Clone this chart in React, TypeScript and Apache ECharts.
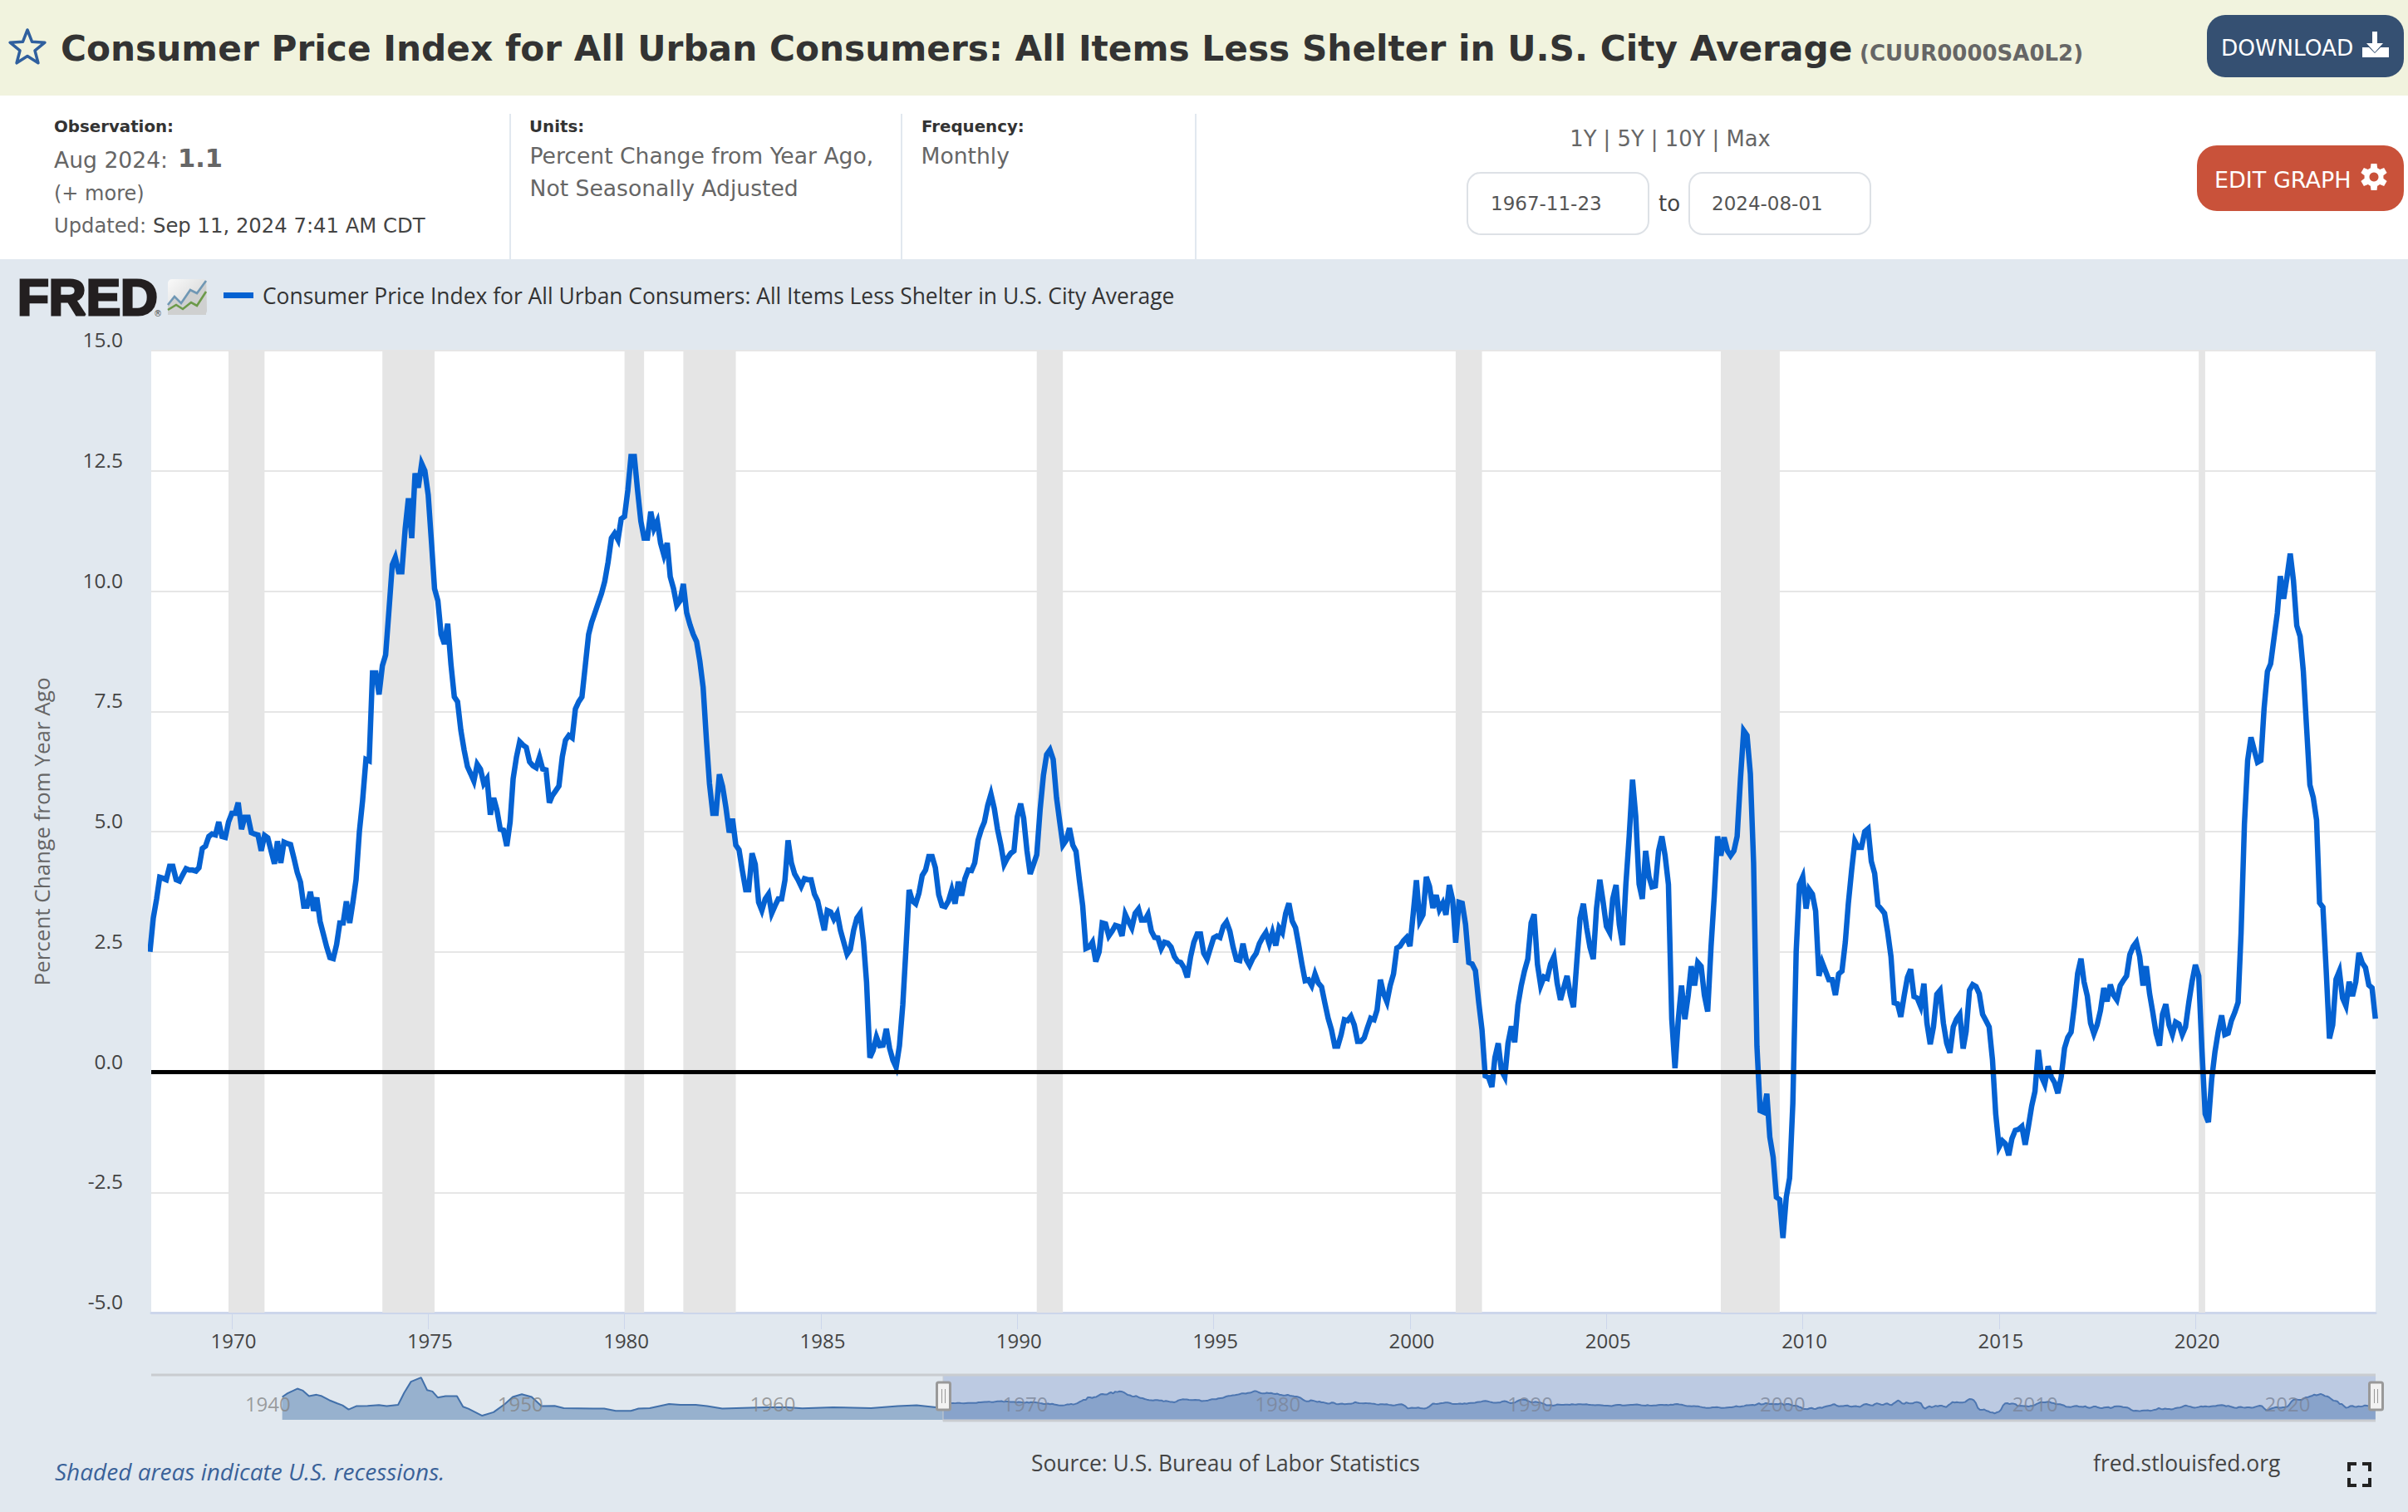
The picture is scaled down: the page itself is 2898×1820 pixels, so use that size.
import React, { useEffect, useRef } from "react";
import * as echarts from "echarts";

// Monthly values, percent change from year ago, starting Dec 1967
const startYear = 1967;
const startMonth = 11;
const cpiYoY: number[] = [
  2.5,
  3.2, 3.6, 4.05, 4.03, 4.0, 4.28, 4.28, 4.0, 3.97, 4.1, 4.23, 4.2,
  4.2, 4.18, 4.25, 4.65, 4.7, 4.9, 4.95, 4.93, 5.2, 4.9, 4.88, 5.2,
  5.38, 5.38, 5.6, 5.05, 5.3, 5.3, 4.98, 4.95, 4.93, 4.6, 4.92, 4.87,
  4.6, 4.33, 4.8, 4.35, 4.78, 4.75, 4.73, 4.45, 4.15, 3.95, 3.45, 3.45,
  3.75, 3.35, 3.63, 3.13, 2.87, 2.6, 2.38, 2.36, 2.65, 3.1, 3.1, 3.55,
  3.1, 3.55, 4.0, 5.0, 5.65, 6.5, 6.47, 8.3, 8.3, 7.85, 8.45, 8.67,
  9.6, 10.55, 10.7, 10.4, 10.4, 11.3, 11.93, 11.1, 12.45, 12.15, 12.65, 12.5,
  12.0, 11.0, 10.05, 9.8, 9.1, 8.9, 9.32, 8.47, 7.8, 7.7, 7.1, 6.7,
  6.35, 6.2, 6.05, 6.4, 6.3, 6.0, 6.1, 5.35, 5.7, 5.45, 5.05, 5.03,
  4.7, 5.2, 6.1, 6.55, 6.87, 6.8, 6.75, 6.45, 6.37, 6.33, 6.55, 6.3,
  6.28, 5.6, 5.75, 5.85, 5.95, 6.55, 6.9, 7.0, 6.95, 7.55, 7.7, 7.8,
  8.45, 9.1, 9.35, 9.55, 9.75, 9.95, 10.2, 10.6, 11.1, 11.2, 11.07, 11.5,
  11.55, 12.1, 12.8, 12.8, 12.1, 11.45, 11.1, 11.1, 11.65, 11.3, 11.45, 11.0,
  10.75, 11.0, 10.3, 10.05, 9.7, 9.8, 10.15, 9.55, 9.3, 9.1, 8.95, 8.55,
  8.0, 6.9, 6.0, 5.38, 5.38, 6.19, 5.94, 5.5, 4.98, 5.27, 4.72, 4.62,
  4.19, 3.79, 3.79, 4.55, 4.32, 3.53, 3.36, 3.6, 3.7, 3.3, 3.46, 3.6,
  3.6, 3.99, 4.82, 4.35, 4.12, 4.0, 3.86, 4.02, 4.0, 4.0, 3.7, 3.56,
  3.25, 2.95, 3.36, 3.33, 3.18, 3.3, 2.95, 2.7, 2.45, 2.55, 2.95, 3.2,
  3.3, 2.7, 1.87, 0.3, 0.45, 0.73, 0.55, 0.56, 0.9, 0.5, 0.25, 0.1,
  0.55, 1.4, 2.5, 3.79, 3.56, 3.5, 3.72, 4.09, 4.2, 4.48, 4.48, 4.25,
  3.69, 3.46, 3.44, 3.56, 3.79, 3.5, 3.96, 3.67, 4.02, 4.2, 4.19, 4.35,
  4.82, 5.05, 5.2, 5.55, 5.78, 5.48, 5.05, 4.72, 4.32, 4.45, 4.55, 4.6,
  5.31, 5.58, 5.28, 4.6, 4.12, 4.32, 4.52, 5.45, 6.17, 6.6, 6.7, 6.5,
  5.7, 5.18, 4.72, 4.82, 5.07, 4.72, 4.59, 4.0, 3.46, 2.57, 2.6, 2.7,
  2.3, 2.5, 3.1, 3.08, 2.83, 2.93, 3.05, 3.03, 2.83, 3.28, 3.13, 3.0,
  3.3, 3.39, 3.16, 3.16, 3.28, 2.93, 2.8, 2.79, 2.57, 2.7, 2.68, 2.6,
  2.4, 2.3, 2.28, 2.17, 1.97, 2.4, 2.7, 2.87, 2.87, 2.47, 2.35, 2.57,
  2.79, 2.83, 2.8, 3.03, 3.12, 2.93, 2.6, 2.34, 2.32, 2.67, 2.34, 2.22,
  2.37, 2.47, 2.67, 2.8, 2.9, 2.67, 2.9, 2.63, 3.0, 2.9, 3.3, 3.51,
  3.14, 3.0, 2.66, 2.25, 1.9, 1.92, 1.8, 2.04, 1.85, 1.77, 1.43, 1.12,
  0.88, 0.54, 0.54, 0.78, 1.09, 1.07, 1.16, 0.98, 0.64, 0.64, 0.71, 0.92,
  1.12, 1.09, 1.29, 1.92, 1.63, 1.46, 1.8, 2.04, 2.58, 2.62, 2.73, 2.8,
  2.62, 3.31, 3.99, 3.14, 3.27, 4.06, 3.86, 3.41, 3.68, 3.38, 3.51, 3.27,
  3.89, 3.58, 2.69, 3.53, 3.51, 3.07, 2.28, 2.25, 2.11, 1.46, 0.88, -0.08,
  -0.11, -0.31, 0.3, 0.6, 0.03, -0.1, 0.6, 0.95, 0.62, 1.39, 1.8, 2.1,
  2.35, 3.1, 3.28, 2.24, 1.8, 1.98, 1.95, 2.25, 2.4, 1.85, 1.5, 1.75,
  2.0, 1.6, 1.35, 2.3, 3.2, 3.5, 3.0, 2.6, 2.35, 3.4, 4.0, 3.55,
  3.03, 2.9, 3.6, 3.89, 3.07, 2.64, 3.9, 4.9, 6.08, 5.32, 3.91, 3.6,
  4.6, 4.06, 3.85, 3.87, 4.6, 4.9, 4.5, 3.9, 1.1, 0.08, 1.1, 1.8,
  1.1, 1.6, 2.2, 1.8, 2.28, 2.2, 1.6, 1.26, 2.6, 3.65, 4.9, 4.5,
  4.88, 4.6, 4.5, 4.6, 4.9, 6.1, 7.1, 7.0, 6.2, 4.35, 0.54, -0.8,
  -0.83, -0.45, -1.35, -1.77, -2.6, -2.65, -3.45, -2.6, -2.2, -0.65, 2.5, 3.9,
  4.06, 3.4, 3.8, 3.7, 3.35, 2.0, 2.28, 2.1, 1.92, 1.92, 1.6, 2.04,
  2.1, 2.7, 3.5, 4.2, 4.8, 4.67, 4.67, 5.0, 5.06, 4.38, 4.13, 3.47,
  3.39, 3.3, 2.91, 2.4, 1.44, 1.42, 1.15, 1.58, 1.97, 2.14, 1.57, 1.54,
  1.37, 1.84, 1.02, 0.58, 0.94, 1.62, 1.7, 1.02, 0.6, 0.4, 0.94, 1.1,
  1.2, 0.49, 0.85, 1.7, 1.82, 1.78, 1.63, 1.2, 1.07, 0.94, 0.25, -0.87,
  -1.56, -1.43, -1.49, -1.73, -1.38, -1.21, -1.19, -1.13, -1.51, -1.13, -0.7, -0.4,
  0.46, -0.1, -0.25, 0.12, -0.1, -0.22, -0.44, -0.1, 0.5, 0.72, 0.83, 1.37,
  2.05, 2.36, 1.88, 1.58, 1.02, 0.8, 0.98, 1.28, 1.75, 1.47, 1.82, 1.6,
  1.5, 1.8, 1.9, 2.0, 2.44, 2.61, 2.7, 2.4, 1.8, 2.2, 1.63, 1.24,
  0.8, 0.55, 1.2, 1.41, 0.98, 0.78, 1.04, 1.0, 0.78, 0.94, 1.45, 1.88,
  2.23, 2.0, 0.5, -0.87, -1.04, -0.14, 0.42, 0.85, 1.18, 0.78, 0.81, 1.07,
  1.24, 1.45, 2.9, 5.15, 6.48, 6.96, 6.7, 6.44, 6.48, 7.56, 8.33, 8.49,
  9.02, 9.54, 10.31, 9.84, 10.27, 10.78, 10.22, 9.28, 9.06, 8.33, 7.13, 5.97,
  5.71, 5.24, 3.52, 3.43, 2.14, 0.7, 0.98, 1.93, 2.1, 1.54, 1.38, 1.88,
  1.58, 1.88, 2.48, 2.27, 2.17, 1.81, 1.75, 1.11,
];

// Navigator history before the main window: [decimal year, value]
const navHistory: [number, number][] = [
  [1941.67, 8.6], [1941.88, 11.2], [1942.27, 14.6], [1942.49, 13.2], [1942.73, 9.2], [1943.03, 10.2],
  [1943.24, 9.2], [1943.54, 6.2], [1943.85, 3.9], [1944.06, 2.5], [1944.3, -0.5], [1944.6, 1.9],
  [1945.05, 2.1], [1945.5, 2.7], [1945.81, 1.9], [1946.26, 2.9], [1946.5, 11.6], [1946.77, 19.7],
  [1947.17, 22.7], [1947.41, 13.6], [1947.62, 12.6], [1947.83, 8.2], [1948.14, 9.2], [1948.59, 9.2],
  [1948.83, 1.5], [1949.04, 0.1], [1949.59, -5], [1950.04, -2.5], [1950.49, 3.5], [1950.8, 8.6],
  [1951.16, 10.6], [1951.55, 8.6], [1951.94, 1.9], [1952.46, 2.1], [1952.82, 0.5], [1953.97, 0.1],
  [1954.42, 0.1], [1954.88, -1.5], [1955.48, -1.5], [1955.78, 0.1], [1956.23, 0.5], [1956.99, 3.5],
  [1957.44, 2.9], [1958.05, 2.9], [1958.5, 1.9], [1959.1, 0.1], [1960.76, 1.1], [1961.67, 1.1],
  [1962.27, 0.3], [1963.48, 1.1], [1964.99, 0.5], [1966.05, 1.9], [1966.8, 2.5], [1967.56, 1.1],
];

const recessions: [string, string][] = [
  ["1969-12-01", "1970-11-01"],
  ["1973-11-01", "1975-03-01"],
  ["1980-01-01", "1980-07-01"],
  ["1981-07-01", "1982-11-01"],
  ["1990-07-01", "1991-03-01"],
  ["2001-03-01", "2001-11-01"],
  ["2007-12-01", "2009-06-01"],
  ["2020-02-01", "2020-04-01"],
];

const xTickYears = [1970, 1975, 1980, 1985, 1990, 1995, 2000, 2005, 2010, 2015, 2020];
const navTickYears = [1940, 1950, 1960, 1970, 1980, 1990, 2000, 2010, 2020];
const xMin = Date.UTC(1967, 11, 13);
const xMax = Date.UTC(2024, 7, 3);
const navMin = Date.UTC(1936, 5, 25);

const TITLE = "Consumer Price Index for All Urban Consumers: All Items Less Shelter in U.S. City Average";
const SERIES_CODE = "(CUUR0000SA0L2)";
const Y_NAME = "Percent Change from Year Ago";
const SOURCE = "Source: U.S. Bureau of Labor Statistics";

const BLUE = "#0562d2";
const DEJAVU = "'DejaVu Sans', sans-serif";
const OPEN = "'Open Sans', sans-serif";

const ts = (y: number, m = 0, d = 1) => Date.UTC(y, m, d);
const decYear = (v: number) => {
  const y = Math.floor(v);
  return ts(y) + (v - y) * (ts(y + 1) - ts(y));
};
const yearLabel = (v: number) => String(new Date(v).getUTCFullYear());

const T = (text: string, x: number, y: number, size: number, fill: string, extra: any = {}) => ({
  type: "text",
  silent: true,
  z: extra.z ?? 20,
  rotation: extra.rotation,
  scaleX: extra.scaleX,
  x,
  y,
  style: {
    text,
    x: 0,
    y: 0,
    fill,
    stroke: extra.stroke,
    lineWidth: extra.lineWidth,
    fontSize: size,
    fontFamily: extra.family ?? DEJAVU,
    fontWeight: extra.weight ?? "normal",
    fontStyle: extra.italic ? "italic" : "normal",
    align: extra.align ?? "left",
    verticalAlign: "middle",
  },
});

const R = (x: number, y: number, width: number, height: number, fill: any, r = 0, stroke?: string, lw = 0, z = 1) => ({
  type: "rect",
  silent: true,
  z,
  shape: { x, y, width, height, r },
  style: { fill, stroke, lineWidth: lw },
});

const L = (x1: number, y1: number, x2: number, y2: number, stroke: string, lw: number, z = 2) => ({
  type: "line",
  silent: true,
  z,
  shape: { x1, y1, x2, y2 },
  style: { stroke, lineWidth: lw },
});

const PL = (points: number[][], stroke: string, lw: number, z = 21) => ({
  type: "polyline",
  silent: true,
  z,
  shape: { points },
  style: { stroke, lineWidth: lw, fill: "none" },
});

const PG = (points: number[][], fill: string, stroke?: string, lw = 0, z = 21) => ({
  type: "polygon",
  silent: true,
  z,
  shape: { points },
  style: { fill, stroke, lineWidth: lw, lineJoin: "round" },
});

function starPoints(cx: number, cy: number, R1: number, R2: number) {
  const pts: number[][] = [];
  for (let i = 0; i < 10; i++) {
    const a = -Math.PI / 2 + (i * Math.PI) / 5;
    const r = i % 2 ? R2 : R1;
    pts.push([cx + r * Math.cos(a), cy + r * Math.sin(a)]);
  }
  return pts;
}

function gearElements(cx: number, cy: number, fill: string, hole: string) {
  const els: any[] = [];
  for (let i = 0; i < 6; i++) {
    const a = (i * Math.PI) / 3 + Math.PI / 2;
    const ca = Math.cos(a);
    const sa = Math.sin(a);
    const p = (u: number, v: number) => [cx + u * ca - v * sa, cy + u * sa + v * ca];
    els.push(PG([p(8, -4.5), p(16, -3.5), p(16, 3.5), p(8, 4.5)], fill));
  }
  els.push({ type: "circle", silent: true, z: 21, shape: { cx, cy, r: 11.5 }, style: { fill } });
  els.push({ type: "circle", silent: true, z: 22, shape: { cx, cy, r: 5.5 }, style: { fill: hole } });
  return els;
}

function pageGraphics() {
  const g: any[] = [
    R(0, 0, 2898, 115, "#f1f3de"),
    R(0, 115, 2898, 197, "#ffffff"),
    PG(starPoints(33, 58, 22, 9.5), "none", "#2f5f9e", 3.5),
    T(TITLE, 73, 58, 42.25, "#333333", { weight: "bold" }),
    T(SERIES_CODE, 2238, 64, 26, "#666666", { weight: "bold" }),

    R(2656, 18, 237, 75, "#355072", 22),
    T("DOWNLOAD", 2673, 57, 26.4, "#ffffff"),
    PG([[2855, 38], [2861, 38], [2861, 52], [2868, 52], [2858, 63], [2848, 52], [2855, 52]], "#ffffff"),
    PG([[2843, 57], [2851, 57], [2858, 64], [2865, 57], [2875, 57], [2875, 69], [2843, 69]], "#ffffff"),

    R(2644, 175, 249, 79, "#c9523a", 24),
    T("EDIT GRAPH", 2665, 216, 27, "#ffffff"),
    ...gearElements(2857, 213, "#ffffff", "#c9523a"),

    L(614, 137, 614, 312, "#e1e8ef", 2),
    L(1085, 137, 1085, 312, "#e1e8ef", 2),
    L(1439, 137, 1439, 312, "#e1e8ef", 2),

    T("Observation:", 65, 152, 19.8, "#333333", { weight: "bold" }),
    T("Aug 2024:", 65, 192, 26.6, "#666666"),
    T("1.1", 214, 190, 30.5, "#666666", { weight: "bold" }),
    T("(+ more)", 65, 233, 24, "#666666"),
    T("Updated:", 65, 271.5, 24.2, "#666666"),
    T("Sep 11, 2024 7:41 AM CDT", 184, 271.5, 24.3, "#444444"),
    T("Units:", 637, 152, 19.8, "#333333", { weight: "bold" }),
    T("Percent Change from Year Ago,", 637.5, 187, 26.6, "#666666"),
    T("Not Seasonally Adjusted", 637.5, 226.5, 26.6, "#666666"),
    T("Frequency:", 1109, 152, 19.8, "#333333", { weight: "bold" }),
    T("Monthly", 1108.5, 187, 26.6, "#666666"),

    T("1Y | 5Y | 10Y | Max", 2010, 167, 25.8, "#666666", { align: "center" }),
    R(1766, 208, 218, 74, "#ffffff", 16, "#dde1e6", 2),
    T("1967-11-23", 1794, 245, 23, "#555555"),
    T("to", 1996, 245, 26, "#444444"),
    R(2033, 208, 218, 74, "#ffffff", 16, "#dde1e6", 2),
    T("2024-08-01", 2060, 245, 23, "#555555"),

    T("FRED", 21, 357.5, 62, "#231f20", { family: "'Liberation Sans', sans-serif", weight: "bold", stroke: "#231f20", lineWidth: 3 }),
    T("®", 185, 377, 10, "#444444"),
    R(202, 336, 47, 43, {
      type: "linear", x: 0, y: 0, x2: 1, y2: 1,
      colorStops: [{ offset: 0, color: "#fafafa" }, { offset: 1, color: "#cbcdcd" }],
    }, 5, undefined, 0, 19),
    PG([[202, 367], [210, 357], [218, 365], [229, 349], [237, 353], [248, 338], [248, 379], [202, 379]], "#cfd0d0", undefined, 0, 20),
    PL([[202, 367], [210, 357], [218, 365], [229, 349], [237, 353], [248, 338]], "#6f97b4", 2.6),
    PL([[202, 373], [212, 367], [220, 372], [230, 364], [237, 368], [248, 351]], "#6c9a4a", 2.6),
    L(269, 355.5, 305, 355.5, BLUE, 7, 21),
    T(TITLE, 316, 355.5, 28, "#333333", { family: OPEN, scaleX: 0.943 }),

    T(Y_NAME, 50, 1001, 26, "#666666", { family: OPEN, align: "center", rotation: Math.PI / 2 }),

    T("Shaded areas indicate U.S. recessions.", 66, 1771, 28, "#3a6299", { family: OPEN, italic: true }),
    T(SOURCE, 1241, 1761, 26.4, "#444444", { family: OPEN }),
    T("fred.stlouisfed.org", 2519, 1761, 26.4, "#444444", { family: OPEN }),
    PL([[2827, 1771], [2827, 1762], [2836, 1762]], "#222222", 4),
    PL([[2843, 1762], [2852, 1762], [2852, 1771]], "#222222", 4),
    PL([[2827, 1779], [2827, 1788], [2836, 1788]], "#222222", 4),
    PL([[2843, 1788], [2852, 1788], [2852, 1779]], "#222222", 4),

    // navigator frame and selection
    L(182, 1655, 1135, 1655, "#c9ccd0", 3, 18),
    R(1135, 1654, 1724, 57, "rgba(102,133,194,0.3)", 0, undefined, 0, 18),
    L(1135, 1655, 2859, 1655, "#c9ccd0", 3, 18),
    L(1135, 1710, 2859, 1710, "#c9ccd0", 3, 18),
    L(1135, 1655, 1135, 1711, "#c9ccd0", 1, 18),
    ...[1135, 2859].flatMap((x) => [
      R(x - 7.5, 1664, 16, 33, "#f2f2f2", 2, "#999999", 3, 22),
      L(x - 1.5, 1672, x - 1.5, 1689, "#999999", 1, 23),
      L(x + 2.5, 1672, x + 2.5, 1689, "#999999", 1, 23),
    ]),
  ];
  return g;
}

export default function App() {
  const ref = useRef<HTMLDivElement>(null);

  useEffect(() => {
    document.body.style.margin = "0";
    const chart = echarts.init(ref.current!, null, { renderer: "svg" });
    const mainData = cpiYoY.map((v, i) => [ts(startYear, startMonth + i), v]);
    const navData = [...navHistory.map(([y, v]) => [decYear(y), v]), ...mainData];

    chart.setOption({
      animation: false,
      backgroundColor: "#e1e8ef",
      grid: [
        { left: 182, top: 422, width: 2677, height: 1158, show: true, backgroundColor: "#ffffff", borderWidth: 0, containLabel: false },
        { left: 182, top: 1656, width: 2677, height: 53, show: false, containLabel: false },
      ],
      xAxis: [
        {
          type: "value",
          gridIndex: 0,
          min: xMin,
          max: xMax,
          axisLine: { show: true, onZero: false, lineStyle: { color: "#ccd6eb", width: 3 } },
          axisTick: { show: true, length: 20, customValues: xTickYears.map((y) => ts(y)), lineStyle: { color: "#ccd6eb", width: 1 } },
          splitLine: { show: false },
          axisLabel: {
            customValues: xTickYears.map((y) => ts(y)),
            formatter: yearLabel,
            color: "#444444",
            fontFamily: OPEN,
            fontSize: 24,
            margin: 21,
            padding: [0, 0, 0, 4],
            hideOverlap: false,
          },
        },
        {
          type: "value",
          gridIndex: 1,
          min: navMin,
          max: xMax,
          z: 5,
          axisLine: { show: false, onZero: false },
          axisTick: { show: false },
          splitLine: { show: false },
          axisLabel: {
            customValues: navTickYears.map((y) => ts(y)),
            formatter: yearLabel,
            inside: true,
            margin: 8,
            align: "left",
            padding: [0, 0, 0, 6],
            color: "rgba(130,130,130,0.75)",
            fontFamily: OPEN,
            fontSize: 24,
            hideOverlap: false,
          },
        },
      ],
      yAxis: [
        {
          type: "value",
          gridIndex: 0,
          min: -5,
          max: 15,
          interval: 2.5,
          axisLine: { show: false },
          axisTick: { show: false },
          splitLine: { show: true, lineStyle: { color: "#e6e6e6", width: 2 } },
          axisLabel: {
            formatter: (v: number) => v.toFixed(1),
            color: "#444444",
            fontFamily: OPEN,
            fontSize: 24.5,
            margin: 34,
            verticalAlign: "bottom",
            padding: [0, 0, 1, 0],
          },
        },
        {
          type: "value",
          gridIndex: 1,
          min: -8,
          max: 24,
          show: false,
          splitLine: { show: false },
        },
      ],
      series: [
        {
          name: "Recessions",
          type: "line",
          xAxisIndex: 0,
          yAxisIndex: 0,
          data: [],
          z: 1,
          silent: true,
          markArea: {
            silent: true,
            itemStyle: { color: "#e5e5e5", opacity: 1 },
            data: recessions.map(([a, b]) => [{ xAxis: Date.parse(a) }, { xAxis: Date.parse(b) }]),
          },
        },
        {
          name: TITLE,
          type: "line",
          xAxisIndex: 0,
          yAxisIndex: 0,
          data: mainData,
          showSymbol: false,
          symbol: "none",
          z: 3,
          silent: true,
          clip: true,
          lineStyle: { color: BLUE, width: 6.5, join: "miter", miterLimit: 4, cap: "butt" },
        },
        {
          name: "Zero",
          type: "line",
          xAxisIndex: 0,
          yAxisIndex: 0,
          data: [],
          z: 4,
          silent: true,
          markLine: {
            silent: true,
            symbol: "none",
            label: { show: false },
            lineStyle: { color: "#000000", width: 5, type: "solid" },
            data: [{ yAxis: 0 }],
          },
        },
        {
          name: "Navigator",
          type: "line",
          xAxisIndex: 1,
          yAxisIndex: 1,
          data: navData,
          showSymbol: false,
          symbol: "none",
          z: 3,
          silent: true,
          lineStyle: { color: "#4270aa", width: 2 },
          areaStyle: { color: "#3e6ea6", opacity: 0.45, origin: "start" },
        },
      ],
      graphic: { elements: pageGraphics() },
    });
    return () => chart.dispose();
  }, []);

  return <div ref={ref} style={{ position: "absolute", left: 0, top: 0, width: 2898, height: 1820 }} />;
}
